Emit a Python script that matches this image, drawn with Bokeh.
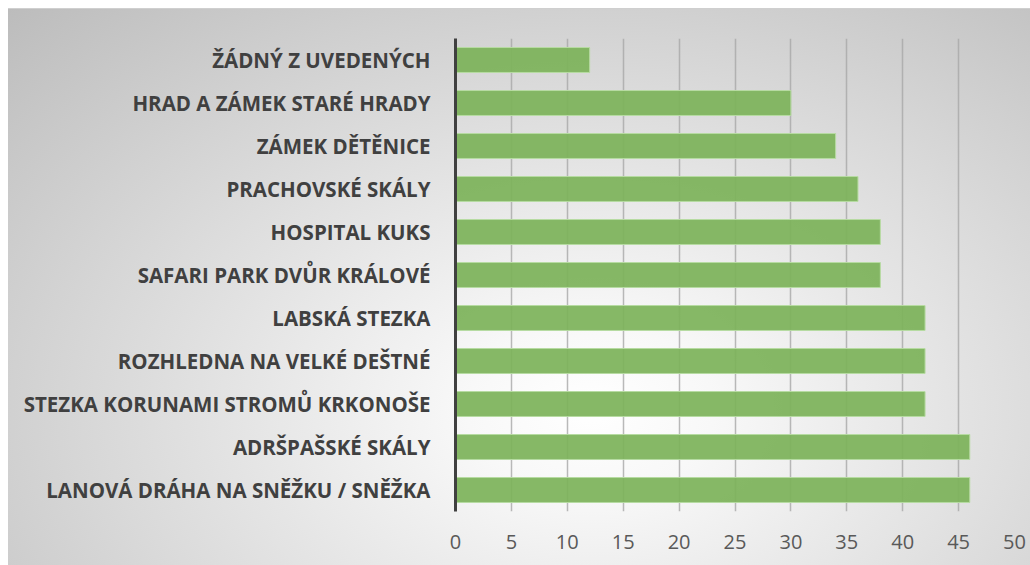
from bokeh.plotting import figure
from bokeh.models import FactorRange, Range1d, FixedTicker, ColumnDataSource
from bokeh.embed import file_html
from bokeh.resources import INLINE

categories = [
    "ŽÁDNÝ Z UVEDENÝCH",
    "HRAD A ZÁMEK STARÉ HRADY",
    "ZÁMEK DĚTĚNICE",
    "PRACHOVSKÉ SKÁLY",
    "HOSPITAL KUKS",
    "SAFARI PARK DVŮR KRÁLOVÉ",
    "LABSKÁ STEZKA",
    "ROZHLEDNA NA VELKÉ DEŠTNÉ",
    "STEZKA KORUNAMI STROMŮ KRKONOŠE",
    "ADRŠPAŠSKÉ SKÁLY",
    "LANOVÁ DRÁHA NA SNĚŽKU / SNĚŽKA",
]
values = [12, 30, 34, 36, 38, 38, 42, 42, 42, 46, 46]
x_ticks = [0, 5, 10, 15, 20, 25, 30, 35, 40, 45, 50]

src = ColumnDataSource(dict(cat=categories, val=values))

p = figure(
    width=1030, height=565,
    y_range=FactorRange(factors=list(reversed(categories)), range_padding=0),
    x_range=Range1d(0, 50),
    output_backend="svg", toolbar_location=None,
    min_border_left=455, min_border_right=16, min_border_top=38, min_border_bottom=54,
)
p.styles = {
    "background": "linear-gradient(#cfcfcf, #cfcfcf) 8px 8px / 100% 1px no-repeat, "
                  "radial-gradient(ellipse at 57% 72%, #ffffff 0%, #f8f8f8 15%, #bcbcbc 100%) 8px 9px / calc(100% - 8px) calc(100% - 9px) no-repeat, "
                  "#ffffff",
}
p.background_fill_color = None
p.border_fill_color = None
p.outline_line_color = None

p.hbar(y="cat", right="val", left=0, height=0.58, source=src,
       fill_color="#7db35a", fill_alpha=0.93, line_color="#b7dba2", line_width=1)

# axes
p.xaxis.ticker = FixedTicker(ticks=x_ticks)
p.xaxis.axis_line_color = None
p.xaxis.major_tick_line_color = None
p.xaxis.minor_tick_line_color = None
p.xaxis.major_label_text_font = "Open Sans"
p.xaxis.major_label_text_font_size = "20px"
p.xaxis.major_label_text_color = "#595959"
p.xaxis.major_label_standoff = 17

p.yaxis.axis_line_color = "#404040"
p.yaxis.axis_line_width = 3
p.yaxis.major_tick_line_color = None
p.yaxis.minor_tick_line_color = None
p.yaxis.major_label_text_font = "Open Sans"
p.yaxis.major_label_text_font_style = "bold"
p.yaxis.major_label_text_font_size = "20.5px"
p.yaxis.major_label_text_color = "#404040"
p.yaxis.major_label_standoff = 19

p.xgrid.grid_line_color = "#a8a8a8"
p.xgrid.grid_line_alpha = 0.8
p.xgrid.grid_line_width = 1.5
p.ygrid.grid_line_color = None

open("out.html", "w").write(file_html(p, INLINE))
